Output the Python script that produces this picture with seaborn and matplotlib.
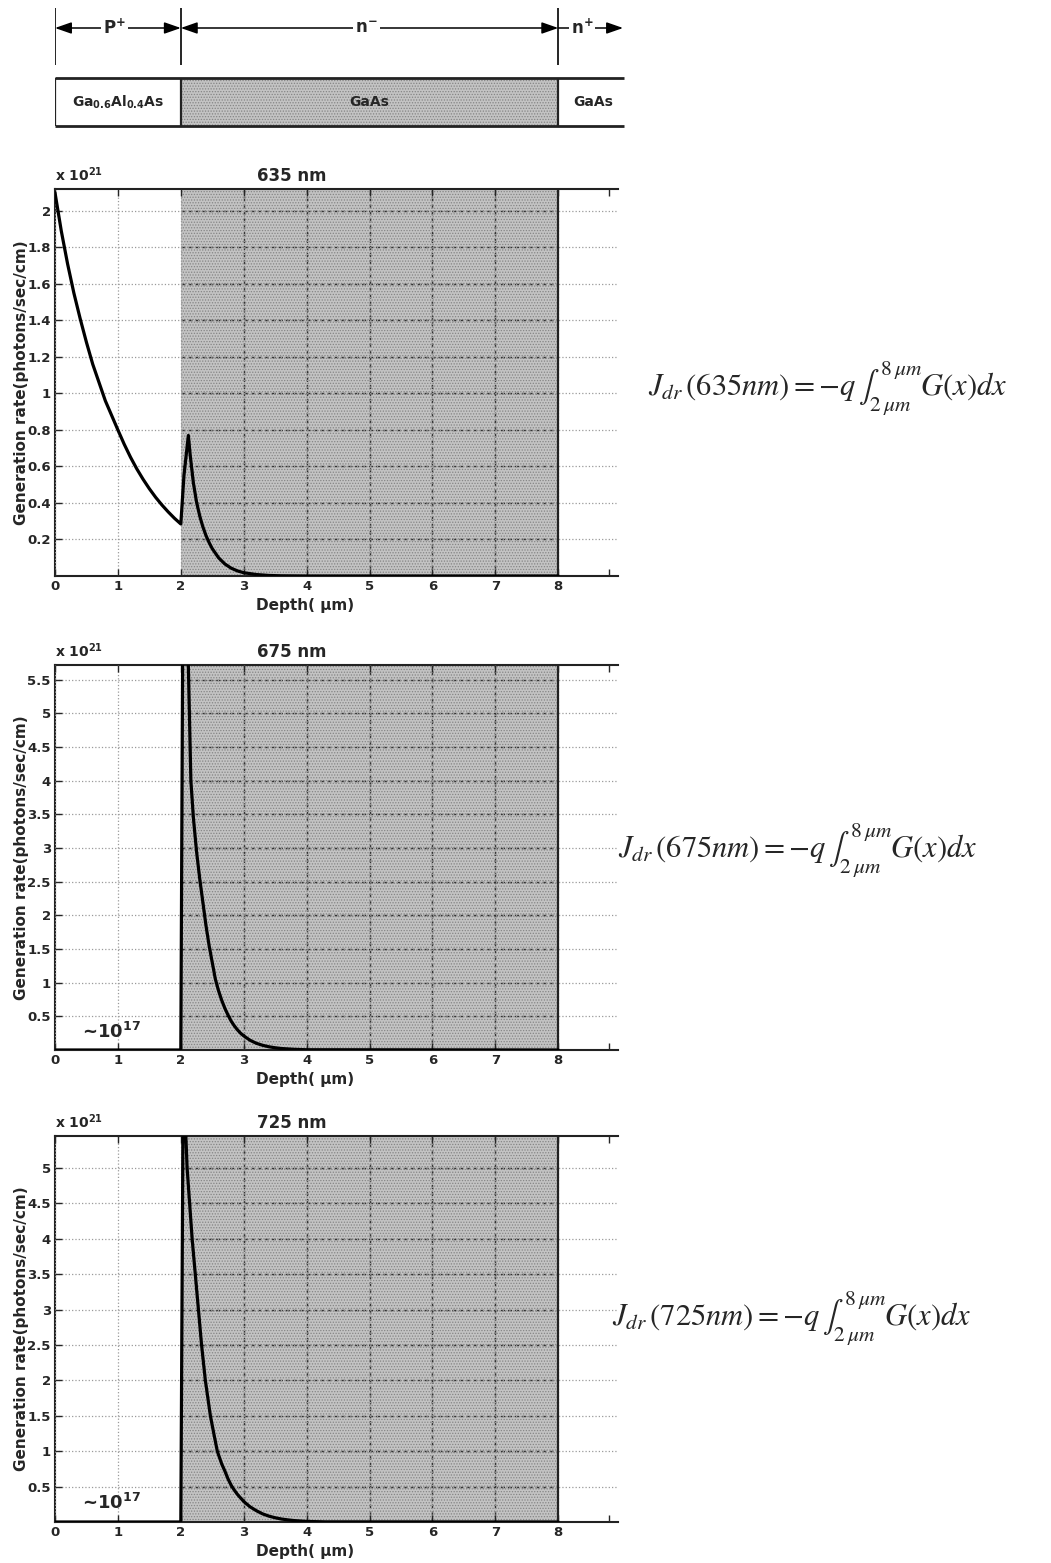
import numpy as np
import matplotlib
matplotlib.use("Agg")
import matplotlib.pyplot as plt
import seaborn as sns

sns.set_style("ticks")
plt.rcParams['font.family'] = ['DejaVu Sans']
plt.rcParams['font.weight'] = 'normal'
plt.rcParams['mathtext.fontset'] = 'custom'
plt.rcParams['mathtext.rm'] = 'DejaVu Sans:bold'
plt.rcParams['mathtext.it'] = 'DejaVu Sans:bold'
plt.rcParams['mathtext.bf'] = 'DejaVu Sans:bold'
plt.rcParams['mathtext.default'] = 'it'
plt.rcParams['hatch.linewidth'] = 0.6

# layer boundaries (um) and labels
LAYER_EDGES = [0, 2, 8]
LAYER_NAMES = [r'Ga$_{0.6}$Al$_{0.4}$As', 'GaAs', 'GaAs']
REGION_NAMES = [r'P$^{+}$', r'n$^{-}$', r'n$^{+}$']

X_TICKS = [0, 1, 2, 3, 4, 5, 6, 7, 8]
X_EXTRA_TICK = 8.8
X_MAX = 8.95

WAVELENGTHS = ['635 nm', '675 nm', '725 nm']

# 635 nm
P1_X = [0.0, 0.1, 0.2, 0.3, 0.4, 0.5, 0.6, 0.7, 0.8, 0.9, 1.0, 1.1, 1.2, 1.3,
        1.4, 1.5, 1.6, 1.7, 1.8, 1.9, 2.0, 2.05, 2.12, 2.15, 2.2, 2.25, 2.3,
        2.35, 2.4, 2.45, 2.5, 2.6, 2.7, 2.8, 2.9, 3.0, 3.2, 3.4, 3.6, 4.0, 8.0]
P1_G = [2.10, 1.89, 1.71, 1.55, 1.41, 1.28, 1.16, 1.06, 0.96, 0.88, 0.80, 0.722,
        0.651, 0.587, 0.530, 0.478, 0.431, 0.389, 0.351, 0.316, 0.285, 0.55, 0.77,
        0.66, 0.51, 0.405, 0.33, 0.27, 0.222, 0.183, 0.15, 0.10, 0.066, 0.043,
        0.028, 0.018, 0.008, 0.003, 0.001, 0.0, 0.0]

# 675 nm
P2_X = [0.0, 1.0, 2.0, 2.04, 2.12, 2.16, 2.2, 2.25, 2.3, 2.35, 2.4, 2.45, 2.5,
        2.55, 2.6, 2.65, 2.7, 2.75, 2.8, 2.85, 2.9, 2.95, 3.0, 3.1, 3.2, 3.3,
        3.4, 3.5, 3.6, 3.8, 4.0, 8.0]
P2_G = [0.0, 0.0, 0.0, 8.0, 5.7, 4.0, 3.45, 2.95, 2.55, 2.2, 1.85, 1.55, 1.3,
        1.05, 0.88, 0.74, 0.62, 0.52, 0.43, 0.36, 0.30, 0.25, 0.21, 0.145, 0.10,
        0.07, 0.048, 0.033, 0.022, 0.01, 0.004, 0.0]

# 725 nm
P3_X = [0.0, 1.0, 2.0, 2.04, 2.08, 2.1, 2.14, 2.18, 2.23, 2.28, 2.33, 2.39,
        2.47, 2.52, 2.58, 2.65, 2.7, 2.75, 2.8, 2.85, 2.9, 3.0, 3.1, 3.2, 3.3,
        3.4, 3.5, 3.6, 3.7, 3.8, 4.0, 4.3, 8.0]
P3_G = [0.0, 0.0, 0.0, 6.5, 5.45, 5.0, 4.5, 4.0, 3.5, 3.0, 2.5, 2.0, 1.5, 1.27,
        1.0, 0.82, 0.72, 0.61, 0.52, 0.45, 0.39, 0.29, 0.215, 0.16, 0.115, 0.083,
        0.06, 0.042, 0.03, 0.02, 0.008, 0.002, 0.0]

P1_YTICKS = [0.2, 0.4, 0.6, 0.8, 1.0, 1.2, 1.4, 1.6, 1.8, 2.0]
P1_YLABELS = ['0.2', '0.4', '0.6', '0.8', '1', '1.2', '1.4', '1.6', '1.8', '2']
P2_YTICKS = [0.5, 1, 1.5, 2, 2.5, 3, 3.5, 4, 4.5, 5, 5.5]
P2_YLABELS = ['0.5', '1', '1.5', '2', '2.5', '3', '3.5', '4', '4.5', '5', '5.5']
P3_YTICKS = P2_YTICKS[:-1]
P3_YLABELS = P2_YLABELS[:-1]
Y_MAX = [2.12, 5.72, 5.45]

EQUATIONS = [r'$J_{dr}\,\left(635nm\right)=-q\,\int_{2\,\mu m}^{8\,\mu m}G\left(x\right)dx$',
             r'$J_{dr}\,\left(675nm\right)=-q\,\int_{2\,\mu m}^{8\,\mu m}G\left(x\right)dx$',
             r'$J_{dr}\,\left(725nm\right)=-q\,\int_{2\,\mu m}^{8\,\mu m}G\left(x\right)dx$']

SHADE = '#c3c3c3'
STIPPLE = '#858585'
B = 'bold'

W, H = 1051, 1563
fig = plt.figure(figsize=(W / 100, H / 100), dpi=100)

L = 55 / W
AW = (618 - 55) / W

# ---------------- band diagram on top ----------------
axb = fig.add_axes([L, 1 - 140 / H, AW, 140 / H])
axb.set_xlim(0, X_MAX)
axb.set_ylim(140, 0)
axb.axis('off')
axb.vlines(LAYER_EDGES, 8, 65, color='black', lw=1.2)
arrow_y = 28
spans = [(LAYER_EDGES[0], LAYER_EDGES[1]), (LAYER_EDGES[1], LAYER_EDGES[2])]
for (a, b), name in zip(spans, REGION_NAMES[:2]):
    axb.annotate('', xy=(a, arrow_y), xytext=(b, arrow_y),
                 arrowprops=dict(arrowstyle='<|-|>,head_length=1.0,head_width=0.35',
                                 color='black', lw=1.1, shrinkA=0, shrinkB=0))
    axb.text((a + b) / 2 - 0.05, arrow_y, name, ha='center', va='center', fontsize=12,
             fontweight=B, bbox=dict(facecolor='white', edgecolor='none', pad=1.5))
axb.annotate('', xy=(9.03, arrow_y), xytext=(LAYER_EDGES[2], arrow_y),
             arrowprops=dict(arrowstyle='-|>,head_length=1.0,head_width=0.35',
                             color='black', lw=1.1, shrinkA=0, shrinkB=0),
             annotation_clip=False)
axb.text(8.38, arrow_y, REGION_NAMES[2], ha='center', va='center', fontsize=12,
         fontweight=B, bbox=dict(facecolor='white', edgecolor='none', pad=1.5))

band_top, band_bot = 78, 126
axb.fill_between(LAYER_EDGES[1:], band_top, band_bot, facecolor=SHADE,
                 edgecolor=STIPPLE, hatch='......', lw=0)
axb.hlines([band_top, band_bot], 0, 9.05, color='#222222', lw=2.0, clip_on=False)
axb.vlines(LAYER_EDGES, band_top, band_bot, color='#222222', lw=1.6)
label_x = [1.0, 5.0, 8.55]
for lx, name in zip(label_x, LAYER_NAMES):
    axb.text(lx, 102, name, ha='center', va='center', fontsize=10, fontweight=B)

# ---------------- three generation-rate panels ----------------
panel_px = [(189, 576), (665, 1050), (1136, 1522)]
data = [(P1_X, P1_G, P1_YTICKS, P1_YLABELS),
        (P2_X, P2_G, P2_YTICKS, P2_YLABELS),
        (P3_X, P3_G, P3_YTICKS, P3_YLABELS)]

for i, ((top, bot), (xs, gs, yt, yl)) in enumerate(zip(panel_px, data)):
    ax = fig.add_axes([L, 1 - bot / H, AW, (bot - top) / H])
    ax.set_xlim(0, X_MAX)
    ax.set_ylim(0, Y_MAX[i])

    ax.axvspan(LAYER_EDGES[1], LAYER_EDGES[2], facecolor=SHADE, edgecolor=STIPPLE,
               hatch='......', lw=0, zorder=0.5)
    # darker grid inside the shaded GaAs region
    ax.hlines(yt, LAYER_EDGES[1], LAYER_EDGES[2], color='#333333', lw=1.0,
              linestyles=(0, (3, 2)), zorder=2.4)
    ax.vlines(X_TICKS[3:-1], 0, Y_MAX[i], color='#333333', lw=1.0,
              linestyles=(0, (3, 2)), zorder=2.4)
    ax.axvline(LAYER_EDGES[2], color='#222222', lw=1.6, zorder=2.6)

    sns.lineplot(x=xs, y=gs, ax=ax, color='black', linewidth=2.3,
                 estimator=None, sort=False, zorder=3)

    ax.set_axisbelow(False)
    ax.grid(True, linestyle=':', color='#9a9a9a', linewidth=0.9)

    ax.set_xticks(X_TICKS + [X_EXTRA_TICK])
    ax.set_xticklabels([str(t) for t in X_TICKS] + [''])
    ax.set_yticks(yt)
    ax.set_yticklabels(yl)
    ax.xaxis.get_gridlines()[-1].set_visible(False)
    ax.tick_params(direction='in', length=5, width=1.0, labelsize=9.5,
                   top=True, right=False, pad=3)
    for lab in ax.get_xticklabels() + ax.get_yticklabels():
        lab.set_fontweight(B)

    for s in ['left', 'bottom', 'top']:
        ax.spines[s].set_linewidth(1.5)
        ax.spines[s].set_color('#222222')
    ax.spines['right'].set_visible(False)

    ax.set_ylabel('Generation rate(photons/sec/cm)', fontsize=11, fontweight=B)
    ax.yaxis.set_label_coords(-0.047, 0.5)
    ax.set_xlabel('Depth( μm)', fontsize=11, fontweight=B)
    ax.xaxis.set_label_coords(0.444, -0.058)

    ax.set_title(WAVELENGTHS[i], x=0.42, fontsize=12, fontweight=B, pad=6)
    ax.text(0.0, 1.012, r'x 10$^{21}$', transform=ax.transAxes, fontsize=10,
            fontweight=B, ha='left', va='bottom')
    if i > 0:
        ax.text(0.9, 0.27, r'~10$^{17}$', fontsize=13, fontweight=B,
                ha='center', va='center')

    eq_x = [648, 618, 612][i]
    eq_y = [388, 850, 1318][i]
    fig.text(eq_x / W, 1 - eq_y / H, EQUATIONS[i], fontsize=22, ha='left',
             va='center', math_fontfamily='stix')

fig.savefig('out.png', dpi=100)
